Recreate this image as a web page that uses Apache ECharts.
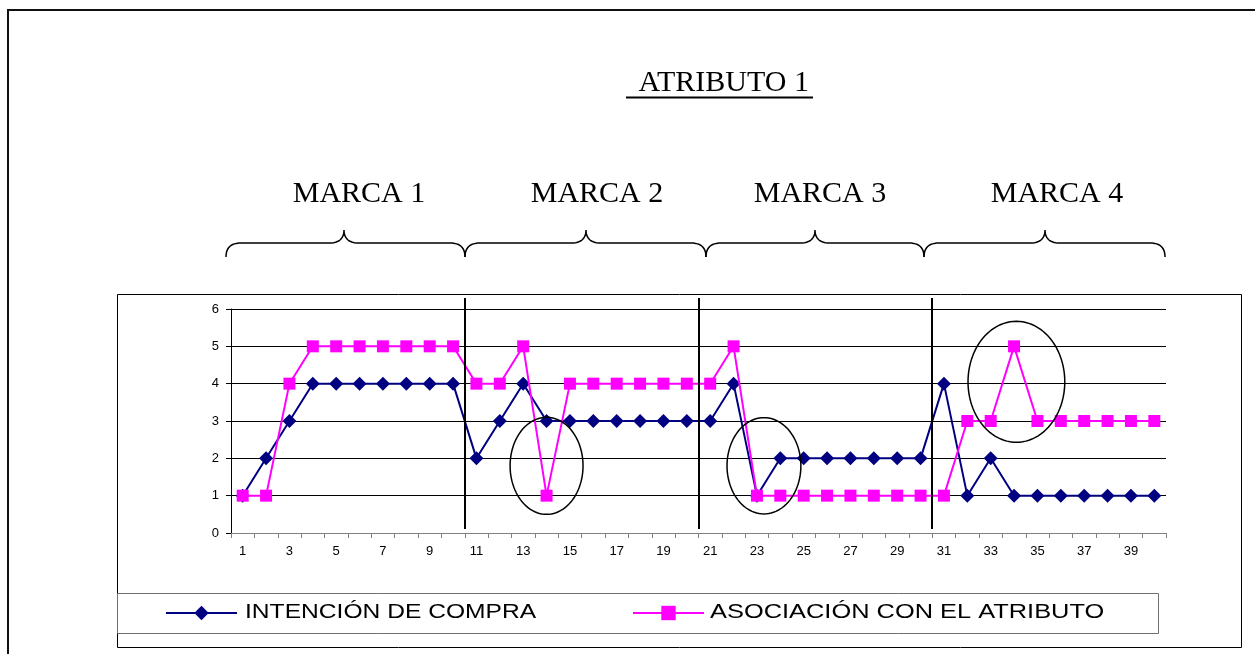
<!DOCTYPE html>
<html>
<head>
<meta charset="utf-8">
<script src="https://cdn.jsdelivr.net/npm/echarts@6/dist/echarts.min.js"></script>
<style>
  html, body { margin: 0; padding: 0; background: #fff; }
  #chart { width: 1255px; height: 654px; }
</style>
</head>
<body>
<div id="chart"></div>
<script>
// Respondent positions on the x axis (10 per brand)
const categories = ['1','2','3','4','5','6','7','8','9','10',
                    '11','12','13','14','15','16','17','18','19','20',
                    '21','22','23','24','25','26','27','28','29','30',
                    '31','32','33','34','35','36','37','38','39','40'];

// Purchase intention per position
const intencionCompra = [1,2,3,4,4,4,4,4,4,4,
                         2,3,4,3,3,3,3,3,3,3,
                         3,4,1,2,2,2,2,2,2,2,
                         4,1,2,1,1,1,1,1,1,1];

// Association with the attribute per position
const asociacionAtributo = [1,1,4,5,5,5,5,5,5,5,
                            4,4,5,1,4,4,4,4,4,4,
                            4,5,1,1,1,1,1,1,1,1,
                            1,3,3,5,3,3,3,3,3,3];

const seriesNames = ['INTENCIÓN DE COMPRA', 'ASOCIACIÓN CON EL ATRIBUTO'];
const titleText = ' ATRIBUTO 1';
const brandLabels = ['MARCA 1', 'MARCA 2', 'MARCA 3', 'MARCA 4'];
// number of positions before each brand change
const brandBoundaries = [10, 20, 30];

// Highlight rings: centre (1-based position, value) and half-extents in axis units
const highlights = [
  { at: 14,   value: 1.8,  halfX: 1.56, halfY: 1.3 },
  { at: 23.3, value: 1.8,  halfX: 1.58, halfY: 1.29 },
  { at: 34.1, value: 4.05, halfX: 2.07, halfY: 1.62 }
];

const chart = echarts.init(document.getElementById('chart'), null, { renderer: 'canvas' });

const sans = 'Arial, "Liberation Sans", sans-serif';
const serif = '"Liberation Serif", "Times New Roman", serif';

// Legend keys (icons only); the wide key captions are set as graphic text below
const legendCommon = {
  orient: 'horizontal',
  top: 604,
  itemWidth: 71,
  itemHeight: 18,
  itemGap: 0,
  selectedMode: false,
  padding: 0,
  formatter: () => '',
  textStyle: { fontFamily: sans, fontSize: 20, color: '#000' }
};

const option = {
  animation: false,
  backgroundColor: '#fff',
  grid: { left: 231, right: 89, top: 309, bottom: 121, containLabel: false, outerBoundsMode: 'none' },
  legend: [
    Object.assign({ data: [seriesNames[0]], left: 165 }, legendCommon),
    Object.assign({ data: [seriesNames[1]], left: 632 }, legendCommon)
  ],
  xAxis: {
    type: 'category',
    data: categories,
    boundaryGap: true,
    axisLine: { show: true, lineStyle: { color: '#808080', width: 1 } },
    axisTick: { show: true, interval: 0, length: 5, alignWithLabel: false, lineStyle: { color: '#808080', width: 1 } },
    axisLabel: { interval: 1, fontFamily: sans, fontSize: 13, color: '#000', margin: 12 },
    splitLine: { show: false }
  },
  yAxis: {
    type: 'value',
    min: 0,
    max: 6,
    interval: 1,
    axisLine: { show: true, lineStyle: { color: '#000', width: 1 } },
    axisTick: { show: true, length: 5, lineStyle: { color: '#000', width: 1 } },
    axisLabel: { fontFamily: sans, fontSize: 13, color: '#000', margin: 12 },
    splitLine: { show: true, lineStyle: { color: '#000', width: 1 } }
  },
  series: [
    {
      name: seriesNames[0],
      type: 'line',
      data: intencionCompra,
      symbol: 'diamond',
      symbolSize: [14, 14],
      showAllSymbol: true,
      itemStyle: { color: '#000080' },
      lineStyle: { color: '#000080', width: 2 },
      emphasis: { disabled: true },
      z: 2
    },
    {
      name: seriesNames[1],
      type: 'line',
      data: asociacionAtributo,
      symbol: 'rect',
      symbolSize: 12,
      showAllSymbol: true,
      itemStyle: { color: '#FF00FF' },
      lineStyle: { color: '#FF00FF', width: 2 },
      emphasis: { disabled: true },
      z: 3
    }
  ]
};

chart.setOption(option);

// Pixel helpers derived from the axes
const firstCenter = chart.convertToPixel({ xAxisIndex: 0 }, 0);
const lastCenter = chart.convertToPixel({ xAxisIndex: 0 }, categories.length - 1);
const step = (lastCenter - firstCenter) / (categories.length - 1);
const xAtPosition = p => firstCenter + (p - 1) * step;          // 1-based position centre
const xAtBoundary = b => firstCenter + (b - 0.5) * step;        // after b positions
const yAt = v => chart.convertToPixel({ yAxisIndex: 0 }, v);
const plotTop = yAt(6);
const plotBottom = yAt(0);

function textEl(text, x, y, size, family, align, scaleX) {
  return {
    type: 'text', x: x, y: y, scaleX: scaleX || 1, silent: true,
    style: {
      text: text, fontFamily: family, fontSize: size, fill: '#000',
      align: align, verticalAlign: 'middle',
      textAlign: align, textVerticalAlign: 'middle'
    }
  };
}

// Points along a quadratic curve
function quad(p0, c, p1, n) {
  const pts = [];
  for (let i = 1; i <= n; i++) {
    const t = i / n, u = 1 - t;
    pts.push([u * u * p0[0] + 2 * u * t * c[0] + t * t * p1[0],
              u * u * p0[1] + 2 * u * t * c[1] + t * t * p1[1]]);
  }
  return pts;
}

// Horizontal curly brace opening downwards
function bracePoints(x0, x1, xm, yEnd, yMid, yTop, r) {
  let pts = [[x0, yEnd]];
  pts = pts.concat(quad([x0, yEnd], [x0, yMid], [x0 + r, yMid], 12));
  pts.push([xm - r, yMid]);
  pts = pts.concat(quad([xm - r, yMid], [xm, yMid], [xm, yTop], 12));
  pts = pts.concat(quad([xm, yTop], [xm, yMid], [xm + r, yMid], 12));
  pts.push([x1 - r, yMid]);
  pts = pts.concat(quad([x1 - r, yMid], [x1, yMid], [x1, yEnd], 12));
  return pts;
}

function ellipsePoints(cx, cy, rx, ry) {
  const pts = [];
  for (let i = 0; i < 96; i++) {
    const a = (i / 96) * Math.PI * 2;
    pts.push([cx + rx * Math.cos(a), cy + ry * Math.sin(a)]);
  }
  return pts;
}

const braces = [
  { x0: 226, x1: 465,  xm: 344,  label: 359 },
  { x0: 465, x1: 706,  xm: 586,  label: 597 },
  { x0: 706, x1: 924,  xm: 815,  label: 820 },
  { x0: 924, x1: 1165, xm: 1045, label: 1057 }
];

const graphics = [];

// Page frame and chart frame
graphics.push({ type: 'rect', silent: true, z: 0,
  shape: { x: 8, y: 10, width: 1300, height: 700 },
  style: { fill: 'none', stroke: '#111', lineWidth: 2 } });
graphics.push({ type: 'rect', silent: true, z: 0,
  shape: { x: 117.5, y: 294.5, width: 1124, height: 353 },
  style: { fill: 'none', stroke: '#000', lineWidth: 1 } });
graphics.push({ type: 'rect', silent: true, z: 0,
  shape: { x: 117.5, y: 593.5, width: 1041, height: 40 },
  style: { fill: 'none', stroke: '#707070', lineWidth: 1 } });

// Legend captions
graphics.push(textEl(seriesNames[0], 245, 612, 20, sans, 'left', 1.23));
graphics.push(textEl(seriesNames[1], 710, 612, 20, sans, 'left', 1.27));

// Title with underline
graphics.push(textEl(titleText, 720, 83, 30, serif, 'center'));
graphics.push({ type: 'line', silent: true,
  shape: { x1: 626, y1: 97.5, x2: 813, y2: 97.5 },
  style: { stroke: '#000', lineWidth: 2 } });

// Brand headings and braces
braces.forEach((b, i) => {
  graphics.push(textEl(brandLabels[i], b.label, 194, 30, serif, 'center'));
  graphics.push({ type: 'polyline', silent: true,
    shape: { points: bracePoints(b.x0, b.x1, b.xm, 257, 243, 230, 15) },
    style: { fill: 'none', stroke: '#000', lineWidth: 1.5 } });
});

// Brand separators
brandBoundaries.forEach(b => {
  const x = Math.round(xAtBoundary(b));
  graphics.push({ type: 'line', silent: true, z: 10,
    shape: { x1: x, y1: plotTop - 11, x2: x, y2: plotBottom - 4 },
    style: { stroke: '#000', lineWidth: 2 } });
});

// Highlight rings
highlights.forEach(h => {
  const cx = xAtPosition(h.at);
  const cy = yAt(h.value);
  const ry = Math.abs(yAt(h.value + h.halfY) - cy);
  graphics.push({ type: 'polygon', silent: true, z: 10,
    shape: { points: ellipsePoints(cx, cy, h.halfX * step, ry) },
    style: { fill: 'none', stroke: '#000', lineWidth: 1.5 } });
});

chart.setOption({ graphic: graphics });
</script>
</body>
</html>
